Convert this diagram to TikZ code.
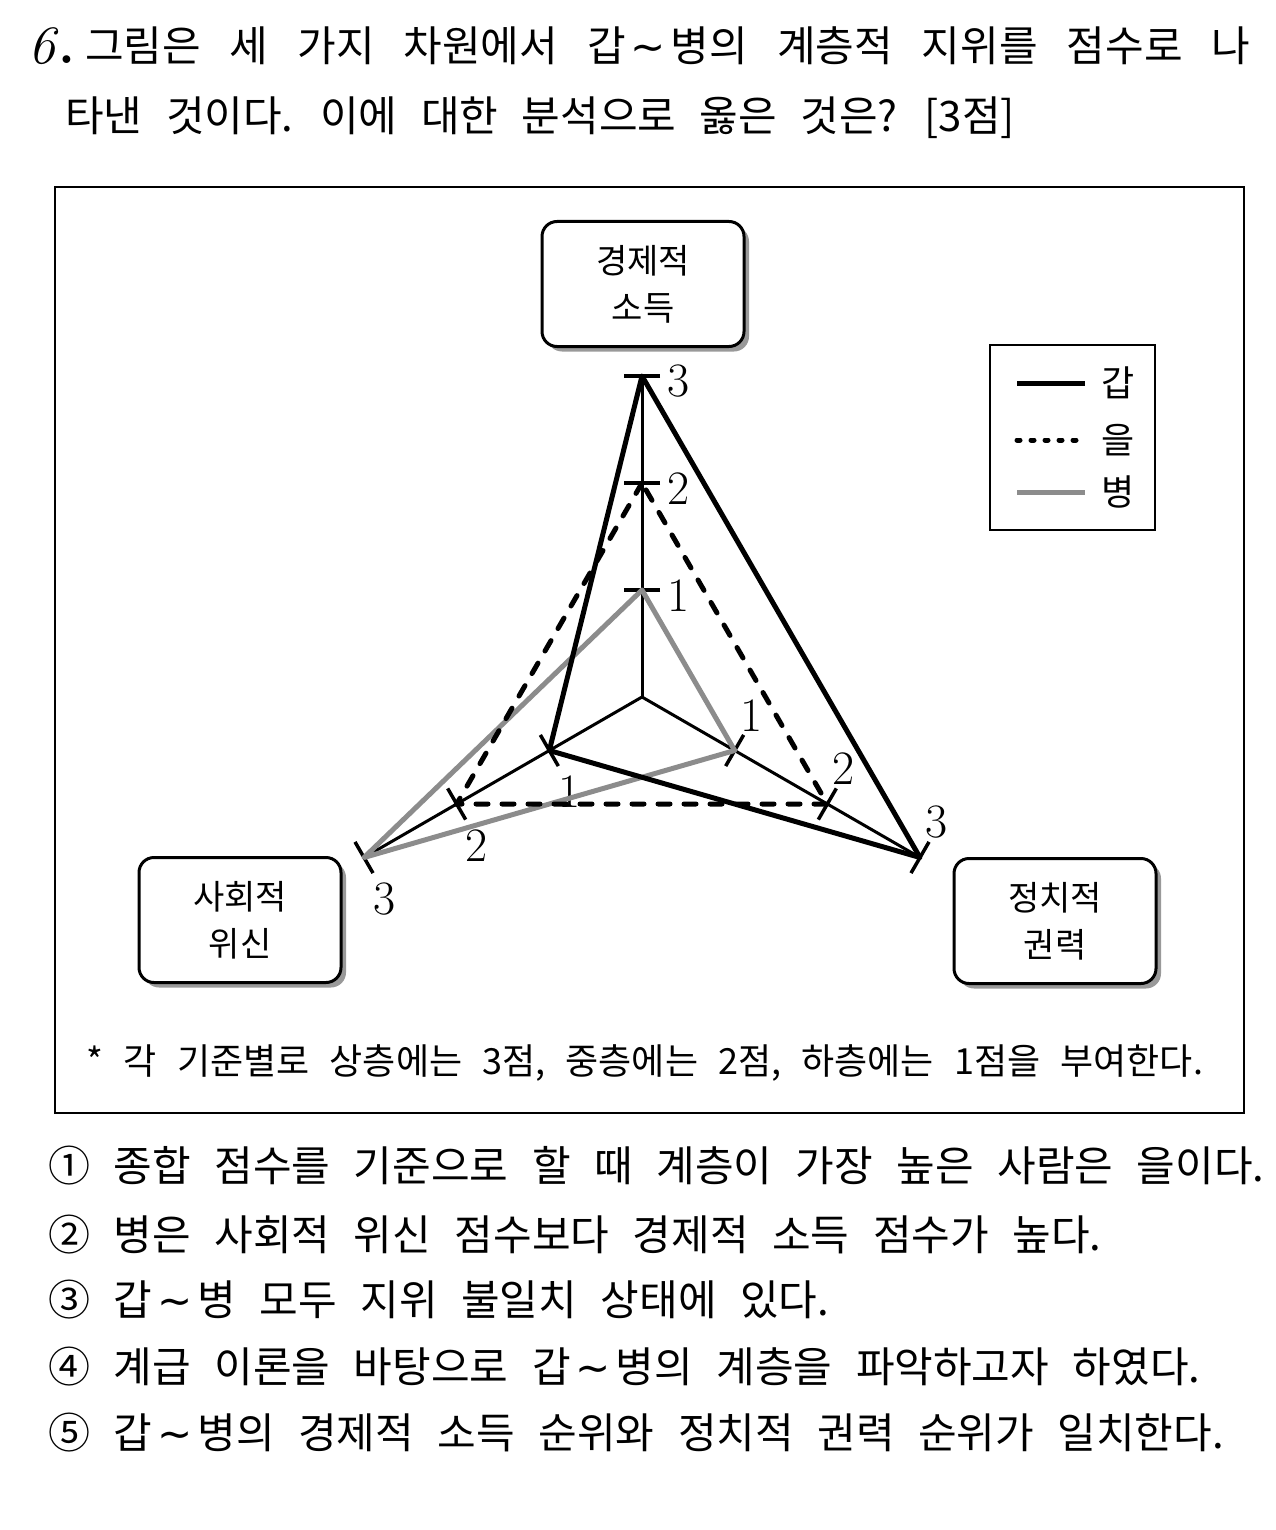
\documentclass[tikz,border=0pt]{standalone}
\usepackage{fontspec}
\newfontfamily\kor{Noto Sans CJK KR}[WordSpace=2.5]
\newfontfamily\sym{DejaVu Sans}
\newcommand\tildesep{\kern5pt{\sym ∼}\kern5pt}
\usetikzlibrary{calc,shadows}

\begin{document}
\begin{tikzpicture}[x=1pt, y=-1pt,
    txt/.style = {font=\kor\fontsize{42}{50}\selectfont, inner sep=0pt},
    dim/.style = {draw, line width=3pt, rounded corners=15pt, fill=white, minimum width=202pt, minimum height=125pt, align=center, font=\kor\fontsize{34}{47}\selectfont, drop shadow={shadow xshift=5pt, shadow yshift=-5pt, fill=black!40, opacity=1}},
    num/.style = {font=\fontsize{48}{48}\selectfont, inner sep=0pt},
    axis/.style = {line width=3pt},
    tickmark/.style = {line width=3.5pt},
    gab/.style = {line width=5pt, line join=round},
    eul/.style = {line width=5pt, dash pattern=on 12pt off 14pt, line cap=round},
    eulkey/.style = {line width=5pt, dash pattern=on 3pt off 11pt, line cap=round},
    byeong/.style = {line width=5pt, black!45, line join=round}]
    \useasboundingbox (0,0) rectangle (1275,1530);
    % question
    \node[anchor=west, inner sep=0pt, font=\fontsize{54}{54}\selectfont] (q) at (28,46) {\textit{6}\textbf{.}};
    \node[txt, anchor=west] (q1) at (85,46) {\makebox[1165pt][s]{그림은 세 가지 차원에서 갑\tildesep 병의 계층적 지위를 점수로 나}};
    \node[txt, anchor=west] (q2) at (65,118) {타낸 것이다. 이에 대한 분석으로 옳은 것은? [3점]};
    \draw[line width=2.5pt] (55,187) rectangle (1244,1113);
    % axes, ticks, scale numbers
    \coordinate (O) at (642,697);
    \foreach \a/\ang/\lang/\ldist in {e/-90/8/37, s/150/64/46, p/30/-65/39} {
        \foreach \k in {1,2,3} {
            \coordinate (\a\k) at ($(O)+(\ang:\k*107)$);
            \draw[tickmark] ($(\a\k)+(\ang+90:18)$) -- ($(\a\k)+(\ang-90:18)$);
            \node[num] (n\a\k) at ($(\a\k)+(\lang:\ldist)$) {\k};
        }
        \draw[axis] (O) -- (\a3);
    }
    % scores
    \draw[byeong] (e1) -- (s3) -- (p1) -- cycle;
    \draw[eul] (e2) -- (s2) -- (p2) -- cycle;
    \draw[gab] (e3) -- (s1) -- (p3) -- cycle;
    % dimension boxes
    \node[dim] (econ) at (643,284) {경제적\\소득};
    \node[dim] (soc) at (240,920) {사회적\\위신};
    \node[dim] (pol) at (1055,921) {정치적\\권력};
    % legend
    \node[draw, line width=2pt, minimum width=165pt, minimum height=185pt] (leg) at (1072,437) {};
    \foreach \s/\y/\t in {gab/383/갑, eulkey/440/을, byeong/492/병} {
        \coordinate (l\s) at (1017,\y);
        \coordinate (r\s) at (1085,\y);
        \draw[\s] (l\s) -- (r\s);
        \node[font=\kor\fontsize{36}{36}\selectfont] (t\s) at (1118,\y) {\t};
    }
    \node[font=\kor\fontsize{36}{36}\selectfont] (note) at (645,1063) {* 각 기준별로 상층에는 3점, 중층에는 2점, 하층에는 1점을 부여한다.};
    % choices
    \foreach \y/\t [count=\i] in {1166/{① 종합 점수를 기준으로 할 때 계층이 가장 높은 사람은 을이다.},
        1235/{② 병은 사회적 위신 점수보다 경제적 소득 점수가 높다.},
        1300/{③ 갑\tildesep 병 모두 지위 불일치 상태에 있다.},
        1367/{④ 계급 이론을 바탕으로 갑\tildesep 병의 계층을 파악하고자 하였다.},
        1433/{⑤ 갑\tildesep 병의 경제적 소득 순위와 정치적 권력 순위가 일치한다.}} {
        \node[txt, anchor=west] (c\i) at (48,\y) {\t};
    }
\end{tikzpicture}
\end{document}
